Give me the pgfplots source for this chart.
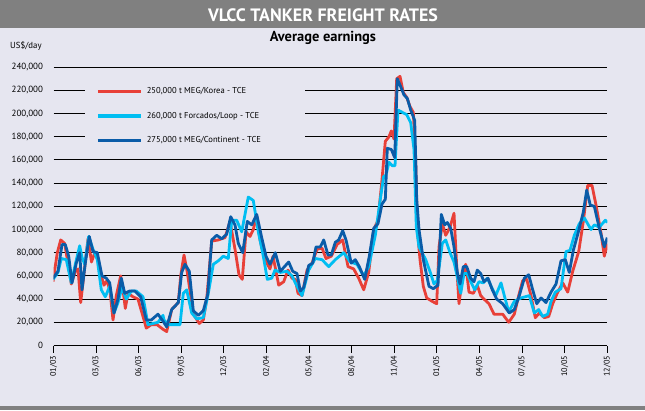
\documentclass[border=0pt]{standalone}
\usepackage{pgfplots}
\pgfplotsset{compat=1.18}
\usepackage{fontspec}
\setmainfont{PT Sans}
\definecolor{bg}{RGB}{230,230,240}
\definecolor{bar}{RGB}{128,128,128}
\definecolor{cred}{RGB}{232,64,56}
\definecolor{clight}{RGB}{0,190,242}
\definecolor{cdark}{RGB}{10,92,168}

\begin{document}
\begin{tikzpicture}[x=1bp,y=1bp]
\fill[bg] (0,0) rectangle (645,410);
\useasboundingbox (0,0) rectangle (645,410);
\fill[bar] (0,382) rectangle (645,410);
\fill[bar] (0,0) rectangle (645,4.5);
\node[anchor=base, text=white, font=\bfseries\fontsize{18}{20}\selectfont] at (323,388.6) {VLCC TANKER FREIGHT RATES};
\node[anchor=base, font=\bfseries\fontsize{14.5}{16}\selectfont] at (323,369) {Average earnings};
\node[anchor=base west, inner sep=0, font=\fontsize{8.8}{10}\selectfont] at (10,362) {US\$/day};
\begin{axis}[
  at={(53.5bp,64.5bp)}, anchor=south west,
  scale only axis, width=553.8bp, height=278.4bp,
  xmin=53.5, xmax=607.3, ymin=0, ymax=240,
  axis x line=bottom, axis y line=left,
  y axis line style={draw=none},
  x axis line style={black, line width=1.1bp, -},
  xtick={53.5,96.1,138.7,181.3,223.9,266.5,309.1,351.7,394.3,436.9,479.5,522.1,564.7,607.3},
  xticklabels={01/03,03/03,06/03,09/03,12/03,02/04,05/04,08/04,11/04,01/05,04/05,07/05,10/05,12/05},
  xtick style={black, line width=1bp},
  tick align=outside, major tick length=7bp,
  xticklabel style={rotate=90, anchor=east, font=\fontsize{8.2}{9}\selectfont},
  ytick={0,20,...,240},
  yticklabels={0,{20,000},{40,000},{60,000},{80,000},{100,000},{120,000},{140,000},{160,000},{180,000},{200,000},{220,000},{240,000}},
  ytick style={draw=none},
  yticklabel style={font=\fontsize{9}{10}\selectfont},
  ymajorgrids, grid style={black, line width=0.9bp},
  legend cell align=left,
  legend image code/.code={\draw[#1, line width=3.6bp] (0bp,0bp) -- (43bp,0bp);},
  legend style={at={(0.0767,0.93)}, anchor=north west, fill=none, draw=none, inner sep=0pt,
    font=\fontsize{8.6}{10}\selectfont, row sep=15bp, column sep=3bp,
    nodes={inner sep=1bp, text height=6bp, text depth=1.5bp}},
  every axis plot/.append style={line width=2.8bp, line join=round},
  clip=true,
]
\fill[bg] (axis cs:85,168) rectangle (axis cs:305,234);
\addplot[cred] coordinates {
(53,55)(57.3,80)(60.7,91)(64.7,88)(71.3,53)(75.3,64)(78,66)(80.7,37)(84,62)(88,92)(91.5,72)(94.7,80)
(98,75)(101.3,60)(104,52)(107,56)(110,47)(113,22)(116.3,43)(120.7,60)(123,48)(125.3,32)(128,45)(133,42)
(138,40)(143,25)(146.3,15)(151.3,18)(157,18)(163,14)(166.7,12)(171.7,31)(178.3,37)(180.7,60)(184,78)
(187.3,63)(190.7,43)(193.3,27)(199.3,19)(203.3,22)(206.7,40)(211.7,90)(218.3,91)(225,93)(230,107)
(235,83)(239,61)(242.3,57)(246,98)(250,94)(253.3,100)(256.7,112)(260,91)(265,74)(270,66)(273,77)
(278.7,52)(283.7,55)(288,65)(292,58)(295.3,57)(298,45)(302,43)(307,65)(312,71)(317,83)(322,84)(326,75)
(331.3,77)(337,87)(342.7,91)(348,68)(353.7,66)(358.7,58)(363.7,48)(368.7,63)(373.7,100)(378,108)
(382,143)(385.3,176)(389,180)(391.3,185)(394,178)(396.7,230)(400,232)(403.3,218)(406.7,214)(410,206)
(413.3,201)(415.7,160)(417.3,100)(420,74)(423.3,51)(426.7,41)(432.3,38)(436.7,36)(439,85)(442.3,105)
(445.7,95)(450,102)(454,114)(456.7,68)(459,36)(462.3,58)(465.7,70)(469,46)(473.3,45)(477.3,52)
(480.7,43)(484,40)(489,36)(494,27)(499,27)(502.7,27)(508.7,20)(514.3,27)(518.7,43)(522.7,56)(526.7,57)
(531,43)(535.3,24)(539.3,28)(544.3,24)(548.7,25)(552.7,36)(557.7,46)(562.7,54)(567.7,46)(572.7,64)
(578.7,81)(583.3,107)(587.7,138)(592,138)(596,121)(601,97)(604.3,77)(607.3,88)
};
\addlegendentry{250,000 t MEG/Korea - TCE}
\addplot[clight] coordinates {
(53,57)(58,63)(61.3,75)(66.3,74)(71.3,54)(75.3,70)(79.7,86)(82,76)(84.7,70)(88.7,94)(93,83)(97.3,74)
(101.3,48)(105.3,42)(109.7,51)(114,28)(118,37)(122,50)(126.3,40)(131.3,47)(136.3,47)(143,42)(148,18)
(153,19)(158,20)(163,26)(164,22)(168.3,18)(180,18)(183.3,45)(186.7,48)(191.7,28)(196.7,23)(203.3,24)
(208.3,45)(213.3,70)(218.3,73)(223.3,77)(228.3,75)(231.7,108)(236.7,108)(241.7,98)(248.3,128)
(253.3,125)(258.3,98)(263.3,77)(267.3,57)(271.7,58)(275,65)(280.3,63)(287,64)(292,60)(297,51)(302,43)
(308.7,65)(315.3,75)(322,74)(328.7,68)(335.3,74)(343.7,80)(350.3,72)(357,70)(363.7,60)(368.7,68)
(375.3,95)(380.3,126)(383.7,146)(385.7,146)(389,158)(392.3,155)(395,155)(398,203)(402.3,201)
(406.7,199)(410.7,192)(414,169)(416.3,102)(419,85)(425.7,74)(430.7,62)(434,53)(437.3,56)(442.3,88)
(445.7,91)(450,80)(454,72)(457.3,59)(460.7,45)(464,62)(467.3,62)(470.7,55)(474.7,48)(479,55)(483.3,54)
(487.3,58)(492.3,49)(495.7,43)(501,54)(504.3,43)(508.7,29)(514.3,38)(521,41)(529.3,43)(534.3,28)
(538.7,31)(542.7,25)(547.7,27)(551,38)(555.3,46)(561,49)(566,81)(570,82)(574.3,95)(579.3,105)
(584.3,110)(591,100)(594.3,104)(599.3,102)(605.3,108)(607.3,106)
};
\addlegendentry{260,000 t Forcados/Loop - TCE}
\addplot[cdark] coordinates {
(53,58)(58,64)(62,87)(65.3,87)(68.7,77)(72,54)(76.3,71)(79.7,80)(82,48)(85.3,71)(89.3,94)(93,81)
(97.3,80)(102,60)(106.3,58)(109.7,54)(114,28)(118,40)(121.3,58)(124.7,45)(129.7,47)(134.7,47)
(140.7,42)(146.3,22)(151.3,22)(158,27)(163,21)(166.7,16)(171.7,31)(178.3,37)(181.7,63)(185,70)
(189.3,64)(193.3,30)(198.3,26)(203.3,30)(207.7,44)(211.7,91)(216.7,95)(221.7,92)(226.7,96)(230.7,111)
(235,104)(238.3,88)(242.7,80)(247.3,107)(251.7,104)(256.7,113)(261.7,93)(266,77)(270,70)(275.3,80)
(280.3,64)(288.7,72)(292.7,64)(297,62)(300.3,47)(303.7,50)(308.7,69)(312.7,71)(316,85)(320.3,85)
(323.7,91)(328,78)(331.3,78)(335.3,89)(338.7,91)(342.7,99)(346,91)(351.3,71)(355.3,74)(359.3,68)
(364.7,57)(369.3,77)(373.7,101)(378,105)(382,122)(385.3,126)(387.3,170)(391.3,169)(394.7,162)
(397.3,230)(400.7,223)(404,216)(407.3,213)(410.7,203)(414.7,194)(416.7,126)(419,100)(423.3,74)
(429,51)(433.3,49)(438,52)(441.3,113)(444.7,104)(447.3,106)(450.7,101)(454,85)(457.3,63)(460,53)
(463.3,68)(466.7,68)(470.7,58)(474,55)(477.3,65)(480.7,62)(484,55)(488,58)(492.3,48)(496.7,40)
(502.7,36)(509.3,28)(514.3,31)(519.3,43)(524.3,58)(528.7,61)(532.7,48)(536.7,36)(541,41)(546,37)
(551,46)(556,53)(561,73)(565.3,74)(569.3,63)(573.3,82)(578.7,99)(583.3,115)(586.7,134)(590.3,121)
(594.3,120)(599.3,101)(604.3,85)(607.3,93)
};
\addlegendentry{275,000 t MEG/Continent - TCE}
\end{axis}
\end{tikzpicture}
\end{document}
